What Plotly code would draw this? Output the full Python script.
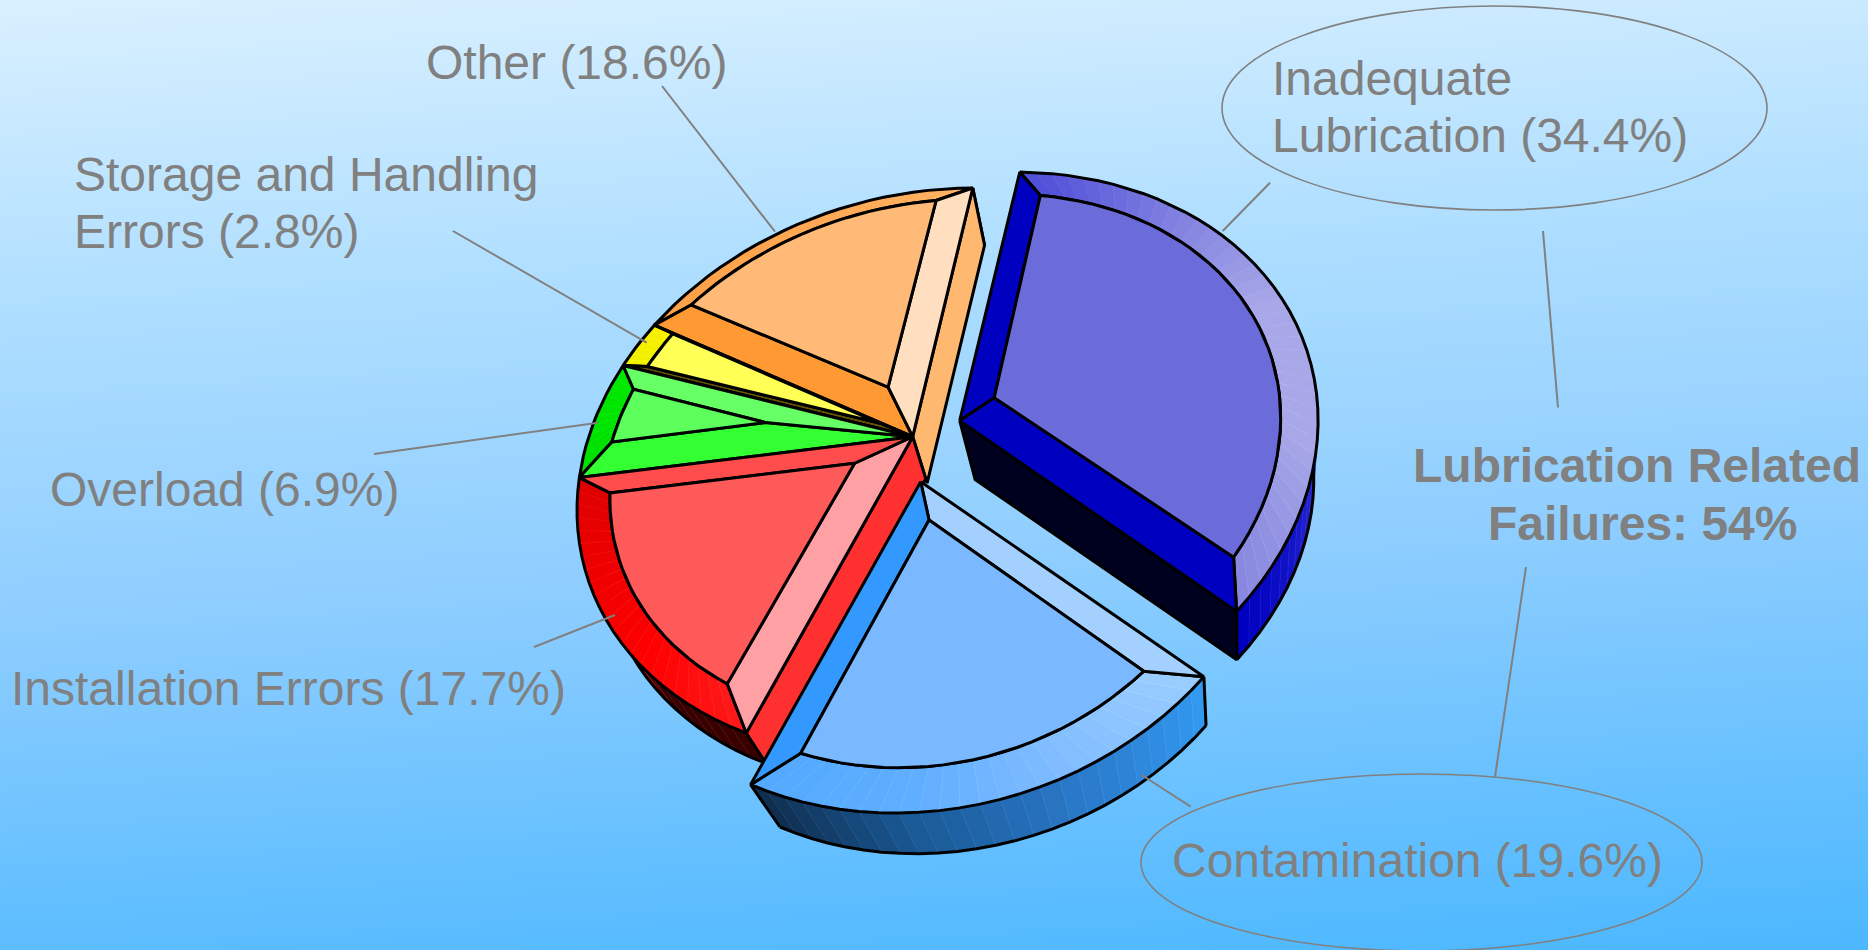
import numpy as np
import plotly.graph_objects as go

# ---------- data ----------
categories = ["Installation Errors", "Overload", "Storage and Handling Errors", "Other",
              "Inadequate Lubrication", "Contamination"]
shares = [17.7, 6.9, 2.8, 18.6, 34.4, 19.6]

# ---------- styles / projection ----------
W, H = 1868, 950
CX, CY = 912.7, 436.7
VP = np.array([1240.0, 1490.0])
P = [-149.4919, -311.3939, 266.2274, -84.1846, -0.1017, 0.0905]   # tilt of the pie's plane

def proj(u, v):
    w = 1 + P[4]*u + P[5]*v
    return np.array([CX + (P[0]*u + P[1]*v)/w, CY + (P[2]*u + P[3]*v)/w])

styles = {
 "Installation Errors": dict(d0=.12, d1=.07, ri=.9, s=.04, shift=(0,0), bulge=0, scale=1, face="#ff5a5a", e0="#ffa0a5", e1="#ff4d4d",
    rim=["#ff1818","#ff0000","#f00000","#e00000"], wall=["#3a0000"]*4 + ["#ff0000"]*7, rw0="#ff3030", rw1=None),
 "Overload": dict(d0=.12, d1=.075, ri=.92, s=.044, shift=(0,0), bulge=0, scale=1, face="#5cff5c", e0="#33ff33", e1="#66ff66",
    rim=["#00e000","#00e800"], wall=["#00a000","#00a000"], rw0=None, rw1=None),
 "Storage and Handling Errors": dict(d0=.018, d1=.002, ri=.92, s=.044, shift=(0,0), bulge=0, scale=1, face="#ffff55", e0="#665500", e1="#ffff55",
    rim=["#f0f000","#f8f000"], wall=["#a0a000","#a0a000"], rw0=None, rw1=None),
 "Other": dict(d0=.12, d1=.11, ri=.95, s=.044, shift=(0,0), bulge=0, scale=1, face="#ffba78", e0="#ff9933", e1="#ffdfc0",
    rim=["#ff9f45","#ffb060"], wall=["#cc8040","#cc8040"], rw0=None, rw1="#ffb870"),
 "Inadequate Lubrication": dict(d0=.085, d1=.12, ri=.90, s=.055, shift=(47,-16), bulge=-.012, scale=1, face="#6b6bd9", e0="#0000c0", e1="#0000c0",
    rim=["#5050d8","#8080e0","#a8a8e8","#a8a8e8","#8888e0"], wall=["#3030d8","#3030d8","#3030d8","#2a2ad0","#0000c0"], rw0=None, rw1="#00001f"),
 "Contamination": dict(d0=.08, d1=.08, ri=.88, s=.06, shift=(8,45), bulge=.015, scale=1.02, face="#7ab8ff", e0="#a3d0ff", e1="#3399ff",
    rim=["#99ccff","#80bcff","#60aeff","#55aaff"], wall=["#3399f0","#2a78c8","#1a5a96","#102e4f"], rw0=None, rw1=None),
}
draw_order = ["Other", "Storage and Handling Errors", "Overload", "Installation Errors",
              "Inadequate Lubrication", "Contamination"]

def hexrgb(h): return np.array([int(h[i:i+2], 16) for i in (1, 3, 5)], float)
def ramp(cols, t):
    x = t*(len(cols)-1); i = min(int(x), len(cols)-2)
    f = x-i
    c = hexrgb(cols[i])*(1-f) + hexrgb(cols[i+1])*f
    return "rgb(%d,%d,%d)" % tuple(c)
def lighter(c):
    v = [int(q) for q in c[4:-1].split(",")]
    v = [min(255, q+14) for q in v]
    return "rgb(%d,%d,%d)" % tuple(v)

fig = go.Figure()

# background
gx = np.linspace(-100, W+100, 12); gy = np.linspace(-100, H+100, 30)
gz = [[y + 0.06*x for x in gx] for y in gy]
fig.add_trace(go.Heatmap(x=gx, y=gy, z=gz, zsmooth="best", showscale=False, hoverinfo="skip",
    zmin=0, zmax=H+100,
    colorscale=[[0,"#d9f0ff"],[.3,"#aedeff"],[.6,"#8dcdff"],[1,"#4db8ff"]]))

LW = 3
def poly(pts, fill=None, lc="black", lw=LW, name=""):
    pts = np.array(pts)
    fig.add_trace(go.Scatter(x=pts[:,0], y=pts[:,1], mode="lines", fill="toself" if fill else None,
        fillcolor=fill, line=dict(color=lc, width=lw), hoverinfo="skip", name=name, showlegend=False))

edges = np.radians(np.concatenate([[0], np.cumsum(shares)])*3.6)
NS = 36

for cat in draw_order:
    i = categories.index(cat)
    st = styles[cat]
    a0, a1 = edges[i], edges[i+1]
    shift = np.array(st["shift"], float)
    pt = lambda u, v: proj(st["scale"]*u, st["scale"]*v) + shift
    wall = lambda p: p + st["s"]*(VP-p)
    d0, d1, ri = st["d0"], st["d1"], st["ri"]
    n0 = np.array([-np.sin(a0), np.cos(a0)]); n1 = np.array([np.sin(a1), -np.cos(a1)])
    ia = np.linalg.solve(np.array([n0, n1]), np.array([d0, d1]))
    def arc_hit(n, d, guess):
        ts = np.linspace(a0, a1, 2001)
        vals = np.cos(ts)*n[0]*ri + np.sin(ts)*n[1]*ri - d
        j = np.where(np.sign(vals[:-1]) != np.sign(vals[1:]))[0]
        return ts[j[0]] if len(j) else guess
    ia0 = arc_hit(n0, d0, a0); ia1 = arc_hit(n1, d1, a1)
    K = max(6, int(NS*(a1-a0)/np.radians(120))+4)
    ts = np.linspace(0, 1, K+1)
    bulge = lambda t: 1 + st["bulge"]*np.sin(np.pi*t)
    outer = [pt(bulge(t)*np.cos(a0+(a1-a0)*t), bulge(t)*np.sin(a0+(a1-a0)*t)) for t in ts]
    inner = [pt(bulge(t)*ri*np.cos(ia0+(ia1-ia0)*t), bulge(t)*ri*np.sin(ia0+(ia1-ia0)*t)) for t in ts]
    apex = pt(0, 0); inapex = pt(ia[0], ia[1])
    ow = [wall(p) for p in outer]
    for k in range(K):
        c = ramp(st["wall"], k/(K-1))
        poly([outer[k], outer[k+1], ow[k+1], ow[k], outer[k]], fill=c, lc=lighter(c), lw=.6, name=cat)
    poly(ow); poly([outer[0], ow[0]]); poly([outer[-1], ow[-1]])
    if st["rw0"]:
        poly([apex, outer[0], ow[0], wall(apex), apex], fill=st["rw0"], name=cat)
    if st["rw1"]:
        poly([apex, outer[-1], ow[-1], wall(apex), apex], fill=st["rw1"], name=cat)
    for k in range(K):
        c = ramp(st["rim"], k/(K-1))
        poly([outer[k], outer[k+1], inner[k+1], inner[k], outer[k]], fill=c, lc=lighter(c), lw=.6, name=cat)
    poly(outer + inner[::-1] + [outer[0]], name=cat)
    poly([apex, outer[0], inner[0], inapex, apex], fill=st["e0"], name=cat)
    poly([apex, outer[-1], inner[-1], inapex, apex], fill=st["e1"], name=cat)
    poly([inapex] + inner + [inapex], fill=st["face"], name=cat)

# ---------- labels ----------
GREY = "#808080"
labels = [("Other (18.6%)", 423.6, 62, False), ("Storage and Handling", 71.6, 174, False), ("Errors (2.8%)", 71.6, 231, False),
          ("Overload (6.9%)", 47.6, 489, False), ("Installation Errors (17.7%)", 8.6, 688, False),
          ("Contamination (19.6%)", 1169.6, 860, False), ("Inadequate", 1269.6, 78, False), ("Lubrication (34.4%)", 1269.6, 135, False),
          ("Lubrication Related", 1410.6, 465, True), ("Failures: 54%", 1485.6, 523, True)]
for txt, x, y, bold in labels:
    fig.add_annotation(x=x, y=y, xref="x", yref="y", text=f"<b>{txt}</b>" if bold else txt, showarrow=False,
        xanchor="left", yanchor="middle", font=dict(family="Liberation Sans", size=48, color=GREY))

leaders = [(662,86,775,231.7),(453,231,646.7,342.7),(374,454,598,422.7),(534,647,615,615),(1141.7,775,1190.7,806.7),
           (1270,182.7,1222.7,231),(1543,231,1558,407.5),(1526,567,1495,777)]
for x0,y0,x1,y1 in leaders:
    fig.add_shape(type="line", x0=x0,y0=y0,x1=x1,y1=y1, xref="x", yref="y", line=dict(color=GREY, width=2))
for x0,y0,x1,y1 in [(1222,6,1767,210),(1141,774,1702,951)]:
    fig.add_shape(type="circle", x0=x0,y0=y0,x1=x1,y1=y1, xref="x", yref="y", line=dict(color=GREY, width=1.6))

fig.update_layout(width=W, height=H, margin=dict(l=0,r=0,t=0,b=0), showlegend=False,
    paper_bgcolor="#9ad3ff", plot_bgcolor="rgba(0,0,0,0)",
    xaxis=dict(range=[0,W], visible=False, fixedrange=True, domain=[0,1]),
    yaxis=dict(range=[H,0], visible=False, fixedrange=True, domain=[0,1]))
fig.write_html("out.html", config=dict(displayModeBar=False),
    post_script="document.body.style.margin='0';document.body.style.overflow='hidden';")
